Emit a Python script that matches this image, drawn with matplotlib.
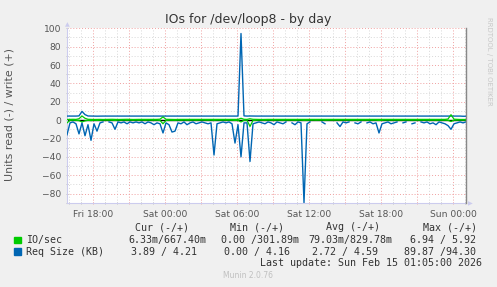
import pandas as pd
import numpy as np
import matplotlib
matplotlib.use("Agg")
from matplotlib import pyplot as plt
import matplotlib.dates as mdates
from matplotlib.ticker import MultipleLocator, FuncFormatter
from matplotlib.patches import Rectangle

# 15 minute samples, Fri 15:50 -> Sun 01:05
times = pd.date_range("2026-02-13 15:50", periods=134, freq="15min")

# Req Size (KB), read side (drawn negative), None = no data
req_read = [
    16, 3, 2, 4, 15, 3, 17, 5, 22, 4, 12, 3,
    2, None, 2, 3, 10, 2, 3, 2, 4, 2, 3, 2,
    3, 2, 4, 2, 3, 5, 3, 4, 14, 3, 5, 13,
    12, 3, 4, 2, 5, 3, 2, 4, 3, 2, 3, 4,
    3, 38, 4, 3, 2, 3, 2, 4, 25, 5, 40, 3,
    3, 45, 4, 3, 2, 3, 4, 2, 3, 5, 2, 3,
    4, 2, None, 3, 5, 2, 3, 89.9, 4, 2, None, 3,
    None, 2, 4, None, 2, None, 3, 7, 2, 3, 2, None,
    3, 4, 2, None, 3, 2, 4, 3, 14, 4, 3, 2,
    4, 3, 2, None, 3, 2, None, 4, 3, None, 2, 3,
    2, 4, 3, 5, 2, 3, 4, 6, 10, 4, 3, 2,
    3, 2,
]
# Req Size (KB), write side
req_write = [
    4.4, 4.4, 4.5, 4.4, 4.6, 9.5, 6.0, 4.5, 4.4, 4.4, 4.3, 4.4,
    4.4, 4.4, 4.4, 4.3, 4.4, 4.4, 4.4, 4.4, 4.3, 4.4, 4.4, 4.4,
    4.4, 4.4, 4.3, 4.4, 4.4, 4.4, 4.4, 4.4, 4.5, 4.4, 4.4, 4.4,
    4.4, 4.4, 4.4, 4.3, 4.4, 4.4, 4.4, 4.4, 4.4, 4.4, 4.3, 4.4,
    4.4, 4.4, 4.4, 4.4, 4.4, 4.4, 4.4, 4.4, 4.5, 4.4, 94.3, 4.6,
    4.4, 4.5, 4.4, 4.4, 4.4, 4.3, 4.4, 4.4, 4.4, 4.4, 4.4, 4.4,
    4.4, 4.3, 4.4, 4.4, 4.4, 4.4, 4.4, 4.4, 4.4, 4.4, 4.4, 4.3,
    4.4, 4.4, 4.4, 4.4, 4.4, 4.4, 4.4, 4.4, 4.3, 4.4, 4.4, 4.4,
    4.4, 4.4, 4.4, 4.4, 4.3, 4.4, 4.4, 4.4, 4.4, 4.4, 4.4, 4.4,
    4.4, 4.4, 4.3, 4.4, 4.4, 4.4, 4.4, 4.4, 4.4, 4.4, 4.4, 4.3,
    4.4, 4.4, 4.4, 4.4, 4.4, 4.4, 4.4, 4.4, 4.4, 4.3, 4.4, 4.4,
    4.2, 4.2,
]
# IO/sec read side (drawn negative)
io_read = [
    3.0, 0.2, 0.1, 0.2, 0.5, 2.0, 0.8, 0.2, 0.5, 0.1, 0.3, 0.1,
    0.0, 0.0, 0.1, 0.1, 0.3, 0.0, 0.1, 0.0, 0.1, 0.0, 0.1, 0.0,
    0.1, 0.0, 0.1, 0.0, 0.1, 0.1, 0.1, 0.3, 4.0, 0.3, 0.1, 0.2,
    0.2, 0.0, 0.1, 0.0, 0.1, 0.0, 0.0, 0.1, 0.0, 0.0, 0.1, 0.1,
    0.0, 0.2, 0.0, 0.0, 0.0, 0.1, 0.0, 0.1, 0.3, 0.2, 2.0, 0.2,
    0.1, 6.9, 0.3, 0.1, 0.0, 0.1, 0.1, 0.0, 0.1, 0.1, 0.0, 0.1,
    0.1, 0.0, 0.0, 0.1, 0.1, 0.0, 0.0, 0.2, 0.1, 0.0, 0.0, 0.1,
    0.0, 0.0, 0.1, 0.0, 0.0, 0.0, 0.1, 0.1, 0.0, 0.1, 0.0, 0.0,
    0.1, 0.1, 0.0, 0.0, 0.1, 0.0, 0.1, 0.1, 0.3, 0.1, 0.0, 0.0,
    0.1, 0.1, 0.0, 0.0, 0.1, 0.0, 0.0, 0.1, 0.1, 0.0, 0.0, 0.1,
    0.0, 0.1, 0.1, 0.1, 0.0, 0.1, 0.1, 0.2, 1.5, 0.1, 0.0, 0.0,
    0.0, 0.0,
]
# IO/sec write side
io_write = [
    0.7, 0.8, 0.9, 0.8, 1.5, 4.5, 2.0, 0.9, 0.8, 0.7, 0.8, 0.8,
    0.7, 0.8, 0.8, 0.9, 0.8, 0.7, 0.8, 0.8, 0.9, 0.8, 0.7, 0.8,
    0.8, 0.8, 0.7, 0.8, 0.9, 0.8, 0.8, 1.0, 3.5, 0.9, 0.8, 0.8,
    0.7, 0.8, 0.8, 0.8, 0.9, 0.8, 0.7, 0.8, 0.8, 0.8, 0.8, 0.7,
    0.8, 0.9, 0.8, 0.8, 0.7, 0.8, 0.8, 0.8, 0.9, 0.8, 2.0, 0.9,
    0.8, 1.5, 0.9, 0.8, 0.8, 0.7, 0.8, 0.8, 0.8, 0.9, 0.8, 0.7,
    0.8, 0.8, 0.8, 0.7, 0.8, 0.8, 0.9, 0.8, 0.8, 0.7, 0.8, 0.8,
    0.8, 0.9, 0.8, 0.7, 0.8, 0.8, 0.8, 0.8, 0.7, 0.8, 0.8, 0.9,
    0.8, 0.8, 0.7, 0.8, 0.8, 0.8, 0.8, 0.9, 0.8, 0.8, 0.7, 0.8,
    0.8, 0.8, 0.9, 0.8, 0.7, 0.8, 0.8, 0.8, 0.8, 0.9, 0.8, 0.7,
    0.8, 0.8, 0.8, 0.8, 0.9, 0.8, 0.8, 1.2, 5.9, 1.0, 0.8, 0.7,
    0.67, 0.67,
]

legend_names = ["IO/sec", "Req Size (KB)"]
legend_colors = ["#00CC00", "#0066B3"]
col_headers = ["Cur (-/+)", "Min (-/+)", "Avg (-/+)", "Max (-/+)"]
row_io = ["6.33m/667.40m", "0.00 /301.89m", "79.03m/829.78m", "6.94 / 5.92"]
row_req = ["3.89 / 4.21", "0.00 / 4.16", "2.72 / 4.59", "89.87 /94.30"]

W, H = 497, 287
def fx(px):
    return px / W
def fy(py):
    return 1 - py / H

BG = "#F0F0F0"
TXT = "#555555"
fig = plt.figure(figsize=(W / 100, H / 100), dpi=100, facecolor=BG)
ax = fig.add_axes([fx(67), fy(203.3), (466 - 67) / W, (203.3 - 28.3) / H])
ax.set_facecolor("white")

to_arr = lambda l: np.array([np.nan if v is None else v for v in l], dtype=float)

ax.axhline(0, color="black", lw=1.0, zorder=2)
ax.plot(times, -to_arr(req_read), color=legend_colors[1], lw=1.0, zorder=3)
ax.plot(times, to_arr(req_write), color=legend_colors[1], lw=1.0, zorder=3)
ax.plot(times, -to_arr(io_read), color=legend_colors[0], lw=0.9, zorder=4)
ax.plot(times, to_arr(io_write), color=legend_colors[0], lw=0.9, zorder=4)

ax.set_xlim(times[0], times[-1])
ax.set_ylim(-90.6, 100)

ax.xaxis.set_major_locator(mdates.HourLocator(byhour=range(0, 24, 3)))
ax.xaxis.set_minor_locator(mdates.HourLocator())
def xfmt(v, pos):
    d = mdates.num2date(v)
    return d.strftime("%a %H:%M") if d.hour % 6 == 0 else ""
ax.xaxis.set_major_formatter(FuncFormatter(xfmt))
ax.yaxis.set_major_locator(MultipleLocator(20))
ax.yaxis.set_minor_locator(MultipleLocator(10))

ax.grid(which="minor", color="#D8D8D8", ls=(0, (1, 2)), lw=0.7, zorder=0)
ax.grid(which="major", color="#F0A0A0", ls=(0, (1, 2)), lw=0.7, zorder=1)

ax.tick_params(axis="both", which="both", colors="#BBBBBB", labelcolor=TXT,
               labelsize=6.6, length=2, width=0.6, direction="inout")
ax.tick_params(axis="x", which="major", colors="#F0A0A0", labelcolor=TXT, pad=4)
ax.tick_params(axis="y", which="major", pad=3)

ax.spines["top"].set_visible(False)
ax.spines["right"].set_color("#888888")
ax.spines["right"].set_linewidth(1.0)
ax.spines["right"].set_zorder(6)
ax.spines["left"].set_color("#CCCCEE")
ax.spines["bottom"].set_color("#CCCCEE")

# axis arrows
fig.text(fx(67), fy(25), "\u25B2", color="#CCCCEE", fontsize=4.5, ha="center", va="center")
fig.text(fx(470), fy(203.3), "\u25B6", color="#CCCCEE", fontsize=4.5, ha="center", va="center")

fig.text(fx(248.5), fy(19), "IOs for /dev/loop8 - by day", ha="center", va="center",
         fontsize=9, color="#333333")
fig.text(fx(10), fy(114), "Units read (-) / write (+)", rotation=90, ha="center",
         va="center", fontsize=7.9, color=TXT)
fig.text(fx(489), fy(17), "RRDTOOL / TOBI OETIKER", rotation=270, ha="center", va="top",
         fontsize=5, color="#C8C8C8")

mono = dict(family="DejaVu Sans Mono", fontsize=7.2, color="#333333", va="center")
for x0, h in zip([134.7, 230, 326, 422.7], col_headers):
    fig.text(fx(x0), fy(227.3), h, **mono)

for i, (name, c) in enumerate(zip(legend_names, legend_colors)):
    yy = 240 + i * 11.7
    fig.patches.append(Rectangle((fx(14), fy(yy + 3.2)), 6.5 / W, 6.5 / H,
                                 transform=fig.transFigure, color=c, figure=fig))
    fig.text(fx(26), fy(yy), name, **mono)

for s, x0 in zip(row_io, [128, 221, 308.5, 410]):
    fig.text(fx(x0), fy(240), s, **mono)
for s, x0 in zip(row_req, [130.7, 224, 311.7, 404]):
    fig.text(fx(x0), fy(251.7), s, **mono)

fig.text(fx(482), fy(263.3), "Last update: Sun Feb 15 01:05:00 2026", ha="right", **mono)
fig.text(fx(248), fy(276), "Munin 2.0.76", ha="center", va="center", fontsize=5.5,
         color="#C0C0C0")

fig.savefig("out.png", dpi=100, facecolor=BG)
